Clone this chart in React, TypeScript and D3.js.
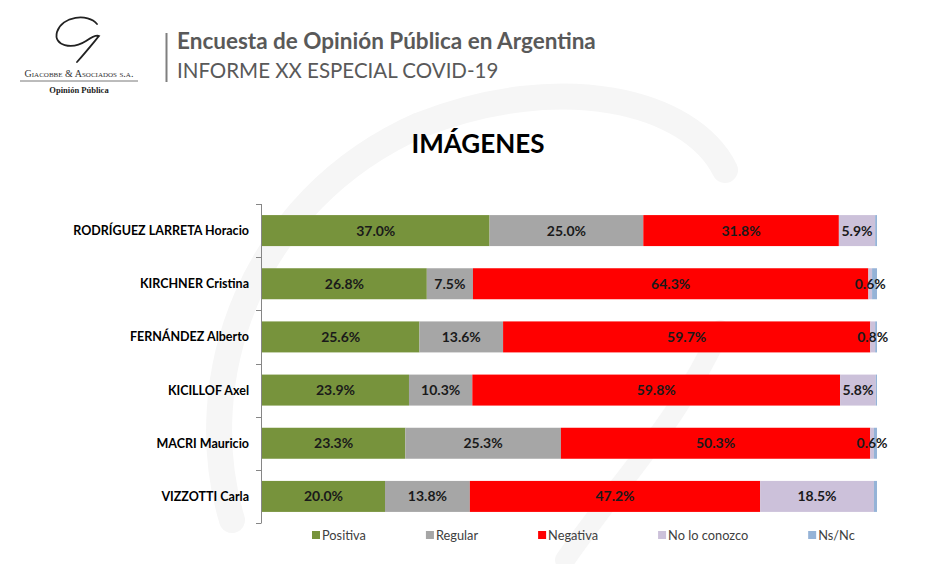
import React, { useEffect, useRef } from "react";
import * as d3 from "d3";

const categories = [
  "RODRÍGUEZ LARRETA Horacio",
  "KIRCHNER Cristina",
  "FERNÁNDEZ Alberto",
  "KICILLOF Axel",
  "MACRI Mauricio",
  "VIZZOTTI Carla",
];
const seriesNames = ["Positiva", "Regular", "Negativa", "No lo conozco", "Ns/Nc"];
const positiva = [37.0, 26.8, 25.6, 23.9, 23.3, 20.0];
const regular = [25.0, 7.5, 13.6, 10.3, 25.3, 13.8];
const negativa = [31.8, 64.3, 59.7, 59.8, 50.3, 47.2];
const noLoConozco = [5.9, 0.6, 0.8, 5.8, 0.6, 18.5];
const nsNc = [0.3, 0.8, 0.3, 0.2, 0.5, 0.5];
const labelledSeries = ["Positiva", "Regular", "Negativa", "No lo conozco"];
const colors = ["#77933C", "#A6A6A6", "#FF0000", "#CCC1DA", "#95B3D7"];

const title = "IMÁGENES";
const headerLine1 = "Encuesta de Opinión Pública en Argentina";
const headerLine2 = "INFORME XX ESPECIAL COVID-19";

const W = 933;
const H = 564;
const FONT = "Lato, 'Open Sans', sans-serif";

export default function App() {
  const ref = useRef<SVGSVGElement | null>(null);

  useEffect(() => {
    const svg = d3.select(ref.current);
    svg.selectAll("*").remove();

    const rows = categories.map((c, i) => ({
      cat: c,
      Positiva: positiva[i],
      Regular: regular[i],
      Negativa: negativa[i],
      "No lo conozco": noLoConozco[i],
      "Ns/Nc": nsNc[i],
    }));

    // watermark
    const wm = svg.append("g").attr("fill", "none").attr("stroke", "#f6f6f6");
    wm.append("path")
      .attr("d", "M 232 520 C 190 380, 250 200, 420 125 C 560 70, 690 100, 725 170")
      .attr("stroke-width", 26)
      .attr("stroke-linecap", "round");
    wm.append("path")
      .attr("d", "M 565 560 C 620 480, 680 420, 720 330")
      .attr("stroke-width", 20)
      .attr("stroke-linecap", "round");

    // header logo
    const logo = svg.append("g");
    logo.append("path")
      .attr("d", "M 97 24 C 88 13, 62 16, 57 32 C 53 46, 72 50, 86 41 C 92 37, 97 35, 99 36 C 94 42, 86 52, 77 62")
      .attr("fill", "none")
      .attr("stroke", "#222")
      .attr("stroke-width", 1.8)
      .attr("stroke-linecap", "round");
    logo.append("text")
      .attr("x", 79)
      .attr("y", 77)
      .attr("text-anchor", "middle")
      .attr("font-family", "'Liberation Serif', serif")
      .attr("font-size", 10)
      .attr("font-variant", "small-caps")
      .attr("fill", "#333")
      .text("Giacobbe & Asociados s.a.");
    logo.append("line")
      .attr("x1", 20).attr("x2", 138).attr("y1", 81).attr("y2", 81)
      .attr("stroke", "#555").attr("stroke-width", 0.8);
    logo.append("text")
      .attr("x", 79)
      .attr("y", 93)
      .attr("text-anchor", "middle")
      .attr("font-family", "'Liberation Serif', serif")
      .attr("font-size", 8.5)
      .attr("font-weight", "bold")
      .attr("fill", "#222")
      .text("Opinión Pública");

    svg.append("line")
      .attr("x1", 166.5).attr("x2", 166.5).attr("y1", 33).attr("y2", 82)
      .attr("stroke", "#7f7f7f").attr("stroke-width", 2);
    svg.append("text")
      .attr("x", 177).attr("y", 49)
      .attr("font-family", FONT).attr("font-size", 22.5).attr("font-weight", "bold")
      .attr("fill", "#595959")
      .text(headerLine1);
    svg.append("text")
      .attr("x", 177).attr("y", 78)
      .attr("font-family", FONT).attr("font-size", 20.5)
      .attr("fill", "#595959")
      .text(headerLine2);

    // title
    svg.append("text")
      .attr("x", 478).attr("y", 153)
      .attr("text-anchor", "middle")
      .attr("font-family", FONT).attr("font-size", 26).attr("font-weight", "bold")
      .attr("fill", "#000")
      .text(title);

    const x = d3.scaleLinear().domain([0, 100]).range([262, 877]);
    const y = d3.scaleBand<string>()
      .domain(categories)
      .range([204, 523])
      .paddingInner(0.417)
      .paddingOuter(0.2085);
    const color = d3.scaleOrdinal<string, string>().domain(seriesNames).range(colors);

    const stack = d3.stack<any>().keys(seriesNames);
    const series = stack(rows as any);

    const g = svg.append("g");
    series.forEach((s) => {
      const key = s.key;
      const sg = g.append("g").attr("fill", color(key));
      sg.selectAll("rect")
        .data(s)
        .join("rect")
        .attr("x", (d: any) => x(d[0]))
        .attr("width", (d: any) => Math.max(0, x(d[1]) - x(d[0])))
        .attr("y", (d: any) => y(d.data.cat)!)
        .attr("height", y.bandwidth());
    });
    series.forEach((s) => {
      if (!labelledSeries.includes(s.key)) return;
      g.append("g")
        .selectAll("text")
        .data(s)
        .join("text")
        .attr("x", (d: any) => (x(d[0]) + x(d[1])) / 2)
        .attr("y", (d: any) => y(d.data.cat)! + y.bandwidth() / 2)
        .attr("dy", "0.36em")
        .attr("text-anchor", "middle")
        .attr("font-family", FONT)
        .attr("font-size", 14)
        .attr("font-weight", "bold")
        .attr("fill", "#1a1a1a")
        .text((d: any) => d3.format(".1f")(d[1] - d[0]) + "%");
    });

    // axis
    const ax = svg.append("g").attr("stroke", "#868686").attr("stroke-width", 1);
    ax.append("line").attr("x1", 261.5).attr("x2", 261.5).attr("y1", 204).attr("y2", 523);
    const step = y.step();
    d3.range(categories.length + 1).forEach((i) => {
      const yy = Math.round(204 + i * step) + 0.5;
      ax.append("line").attr("x1", 256).attr("x2", 261.5).attr("y1", yy).attr("y2", yy);
    });
    svg.append("g")
      .selectAll("text")
      .data(categories)
      .join("text")
      .attr("x", 249)
      .attr("y", (d) => y(d)! + y.bandwidth() / 2)
      .attr("dy", "0.36em")
      .attr("text-anchor", "end")
      .attr("font-family", FONT)
      .attr("font-size", 12.5)
      .attr("font-weight", "bold")
      .attr("fill", "#000")
      .text((d) => d);

    // legend
    const lg = svg.append("g");
    let lx = 312;
    seriesNames.forEach((name) => {
      lg.append("rect")
        .attr("x", lx).attr("y", 531).attr("width", 8).attr("height", 8)
        .attr("fill", color(name));
      const t = lg.append("text")
        .attr("x", lx + 10).attr("y", 539.5)
        .attr("font-family", FONT).attr("font-size", 12.8)
        .attr("fill", "#404040")
        .text(name);
      const w = (t.node() as SVGTextElement).getComputedTextLength();
      lx += 10 + w + 60;
    });
  }, []);

  return (
    <svg
      ref={ref}
      width={W}
      height={H}
      style={{ position: "absolute", left: 0, top: 0, background: "#fff" }}
    />
  );
}
